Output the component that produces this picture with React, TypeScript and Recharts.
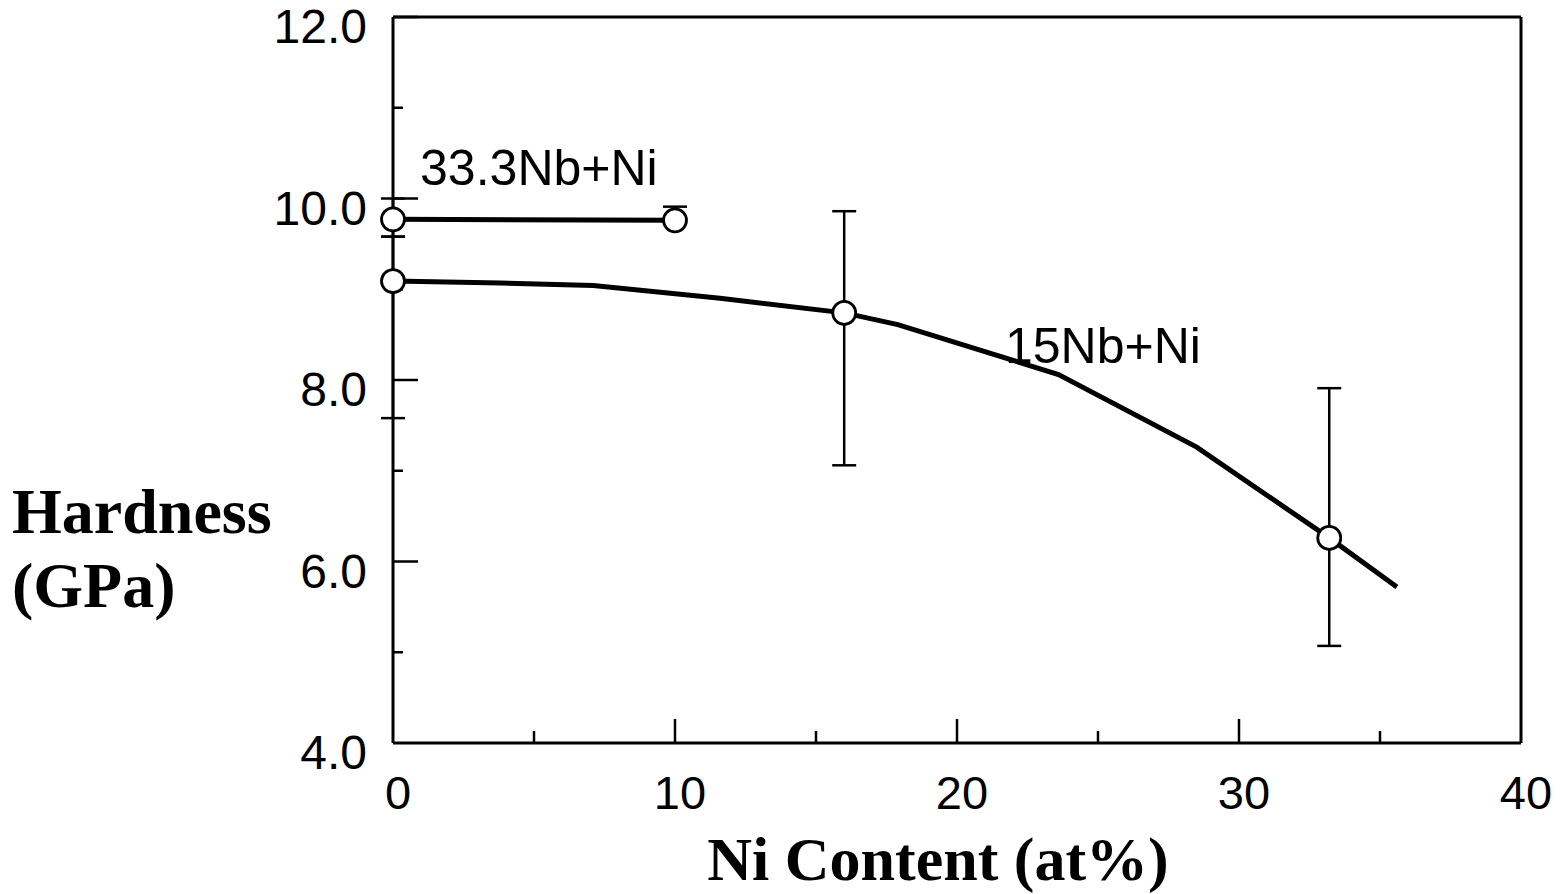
import React from 'react';
import {
  ComposedChart,
  Line,
  Scatter,
  XAxis,
  YAxis,
  ErrorBar,
  ReferenceLine,
  ReferenceDot,
} from 'recharts';

// Axis ticks
const majorX = [0, 10, 20, 30, 40];
const minorX = [5, 15, 25, 35];
const majorY = [4, 6, 8, 10, 12];
const minorY = [5, 7, 9, 11];

// 33.3Nb + Ni
const nb33Ni = [0, 10];
const nb33Hardness = [9.77, 9.76];
const nb33ErrLow = [0.19, 0.02];
const nb33ErrHigh = [0.23, 0.15];

// 15Nb + Ni : fitted curve
const nb15CurveNi = [0, 3.8, 7.1, 11.6, 16.0, 17.9, 23.6, 28.5, 33.2, 35.6];
const nb15CurveHardness = [9.09, 9.07, 9.04, 8.9, 8.74, 8.61, 8.06, 7.26, 6.26, 5.72];

// 15Nb + Ni : measured points
const nb15Ni = [0, 16.0, 33.2];
const nb15Hardness = [9.09, 8.74, 6.26];
const nb15ErrLow = [1.51, 1.68, 1.19];
const nb15ErrHigh = [0.49, 1.12, 1.65];

const nb33Points = nb33Ni.map((x, i) => ({
  x,
  y: nb33Hardness[i],
  err: [nb33ErrLow[i], nb33ErrHigh[i]],
}));
const nb15Points = nb15Ni.map((x, i) => ({
  x,
  y: nb15Hardness[i],
  err: [nb15ErrLow[i], nb15ErrHigh[i]],
}));
const nb15Curve = nb15CurveNi.map((x, i) => ({ x, y: nb15CurveHardness[i] }));

const SANS = 'Liberation Sans, Arial, sans-serif';
const SERIF = 'Liberation Serif, Times New Roman, serif';

const XTick = (props: any) => {
  const { x, y, payload } = props;
  const v = payload.value;
  const major = majorX.includes(v);
  return (
    <g>
      {v !== 0 && v !== 40 && (
        <line x1={x} x2={x} y1={y} y2={y - (major ? 24 : 12)} stroke="#000" strokeWidth={2.5} />
      )}
      {major && (
        <text x={x + 5} y={y + 66} textAnchor="middle" fontFamily={SANS} fontSize={47} fill="#000">
          {String(v)}
        </text>
      )}
    </g>
  );
};

const YTick = (props: any) => {
  const { x, y, payload } = props;
  const v = payload.value;
  const major = majorY.includes(v);
  return (
    <g>
      {v !== 4 && (
        <line x1={x} x2={x + (major ? 25 : 10)} y1={y} y2={y} stroke="#000" strokeWidth={2.5} />
      )}
      {major && (
        <text x={x - 26} y={y + 26} textAnchor="end" fontFamily={SANS} fontSize={48} fill="#000">
          {v.toFixed(1)}
        </text>
      )}
    </g>
  );
};

const Marker = (p: any) => (
  <circle cx={p.cx} cy={p.cy} r={11.5} fill="#fff" stroke="#000" strokeWidth={2.8} />
);

const NoMarker = () => <g />;

const annotation = (text: string) => (p: any) => {
  const vb = p.viewBox || {};
  return (
    <text x={vb.x} y={vb.y} fontFamily={SANS} fontSize={50} fill="#000">
      {text}
    </text>
  );
};

export default function App() {
  return (
    <div style={{ position: 'absolute', left: 0, top: 0, background: '#fff' }}>
      <ComposedChart
        width={1562}
        height={894}
        margin={{ top: 17, right: 41, bottom: 121, left: 0 }}
      >
        <XAxis
          dataKey="x"
          type="number"
          domain={[0, 40]}
          ticks={[...majorX, ...minorX].sort((a, b) => a - b)}
          interval={0}
          tickSize={0}
          tickMargin={0}
          tickLine={false}
          tick={<XTick />}
          axisLine={{ stroke: '#000', strokeWidth: 3 }}
          height={30}
          label={{
            content: (p: any) => {
              const vb = p.viewBox;
              return (
                <text
                  x={vb.x + vb.width / 2 - 19}
                  y={vb.y + 137}
                  textAnchor="middle"
                  fontFamily={SERIF}
                  fontWeight="bold"
                  fontSize={62}
                  fill="#000"
                >
                  Ni Content (at%)
                </text>
              );
            },
          }}
        />
        <YAxis
          type="number"
          domain={[4, 12]}
          ticks={[...majorY, ...minorY].sort((a, b) => a - b)}
          interval={0}
          width={393}
          tickSize={0}
          tickMargin={0}
          tickLine={false}
          tick={<YTick />}
          axisLine={{ stroke: '#000', strokeWidth: 3 }}
          label={{
            content: (p: any) => {
              const vb = p.viewBox;
              return (
                <g fontFamily={SERIF} fontWeight="bold" fontSize={64} fill="#000">
                  <text x={vb.x + 12} y={533}>Hardness</text>
                  <text x={vb.x + 12} y={607}>(GPa)</text>
                </g>
              );
            },
          }}
        />
        <ReferenceLine y={12} stroke="#000" strokeWidth={3} />
        <ReferenceLine x={40} stroke="#000" strokeWidth={3} />

        <Line
          data={nb33Points}
          dataKey="y"
          stroke="#000"
          strokeWidth={5}
          dot={false}
          activeDot={false}
          type="linear"
          isAnimationActive={false}
        />
        <Line
          data={nb15Curve}
          dataKey="y"
          stroke="#000"
          strokeWidth={5}
          dot={false}
          activeDot={false}
          type="linear"
          isAnimationActive={false}
        />

        {/* error bars first, open circles drawn over them */}
        <Scatter data={nb33Points} dataKey="y" shape={NoMarker} isAnimationActive={false}>
          <ErrorBar dataKey="err" direction="y" width={12} strokeWidth={2.5} stroke="#000" />
        </Scatter>
        <Scatter data={nb15Points} dataKey="y" shape={NoMarker} isAnimationActive={false}>
          <ErrorBar dataKey="err" direction="y" width={12} strokeWidth={2.5} stroke="#000" />
        </Scatter>
        <Scatter data={nb33Points} dataKey="y" shape={Marker} zIndex={3000} isAnimationActive={false} />
        <Scatter data={nb15Points} dataKey="y" shape={Marker} zIndex={3000} isAnimationActive={false} />

        <ReferenceDot x={0.96} y={10.15} r={0} stroke="none" label={{ content: annotation('33.3Nb+Ni') }} />
        <ReferenceDot x={21.7} y={8.19} r={0} stroke="none" label={{ content: annotation('15Nb+Ni') }} />
      </ComposedChart>
    </div>
  );
}
